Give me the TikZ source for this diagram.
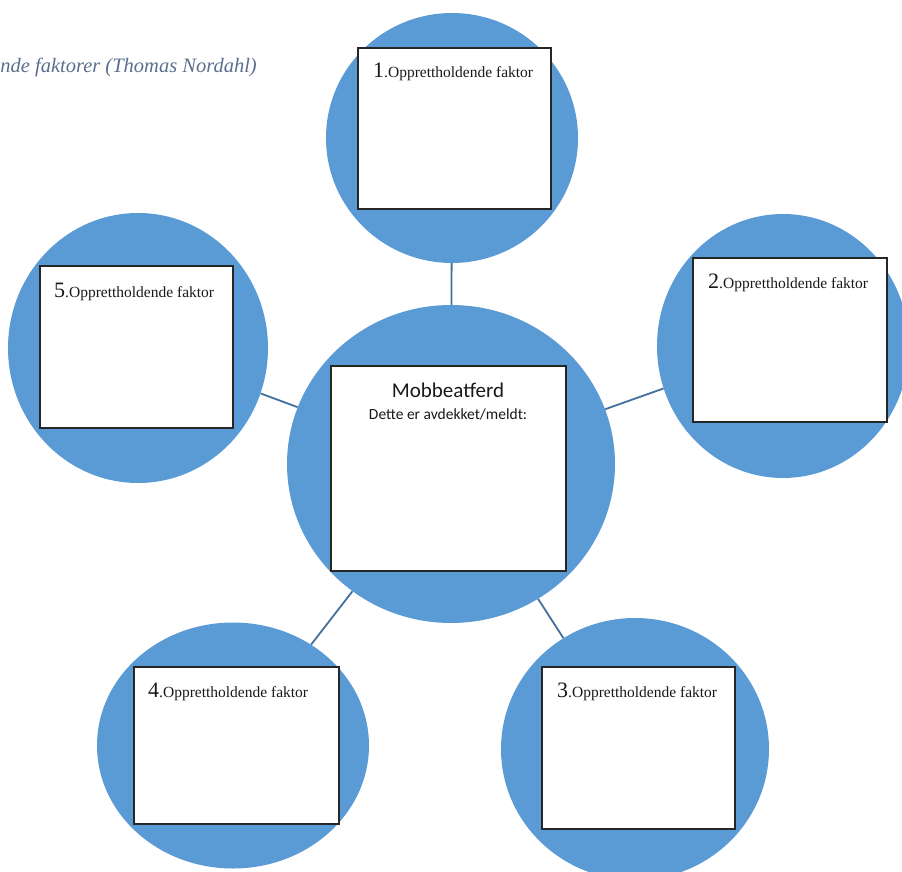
\documentclass[tikz,border=0pt]{standalone}
\usepackage{fontspec}
\setmainfont{Liberation Serif}
\newfontfamily\calib{Carlito}
\usetikzlibrary{shapes.geometric}
\definecolor{disc}{HTML}{5B9BD5}
\definecolor{link}{HTML}{41719C}
\definecolor{titlec}{HTML}{5A6F8E}
\newcommand{\factlabel}[1]{{\fontsize{22}{22}\selectfont #1}{\fontsize{15.5}{16}\selectfont .Opprettholdende faktor}}
\begin{document}
\begin{tikzpicture}[x=1pt,y=-1pt,
  disk/.style={ellipse, fill=disc, draw=none, inner sep=0pt},
  card/.style={rectangle, fill=white, draw=black!85, line width=1.6pt, inner sep=0pt},
  conn/.style={draw=link, line width=1.8pt},
  lbl/.style={anchor=base west, inner sep=0pt, text=black!90}]
\useasboundingbox (0,0) rectangle (902,872);
\begin{scope}
\clip (0,0) rectangle (902,872);
% discs
\node[disk, minimum width=328pt, minimum height=318pt] (c0) at (451,464) {};
\node[disk, minimum width=252pt, minimum height=250pt] (c1) at (452,138) {};
\node[disk, minimum width=252pt, minimum height=264pt] (c2) at (783,346) {};
\node[disk, minimum width=268pt, minimum height=262pt] (c3) at (635,749) {};
\node[disk, minimum width=272pt, minimum height=246pt] (c4) at (233,745.5) {};
\node[disk, minimum width=260pt, minimum height=270pt] (c5) at (138,348) {};
% connectors
\draw[conn] (c0) -- (c1);
\draw[conn] (c0) -- (c2);
\draw[conn] (c0) -- (c3);
\draw[conn] (c0) -- (c4);
\draw[conn] (c0) -- (c5);
% cards
\node[card, minimum width=235pt, minimum height=205pt] (r0) at (448.5,468.5) {};
\node[card, minimum width=193pt, minimum height=161pt] (r1) at (454.5,128.5) {};
\node[card, minimum width=194pt, minimum height=164pt] (r2) at (790,340) {};
\node[card, minimum width=193pt, minimum height=162pt] (r3) at (638.5,748) {};
\node[card, minimum width=205pt, minimum height=157pt] (r4) at (236.5,745.5) {};
\node[card, minimum width=193pt, minimum height=162pt] (r5) at (136.5,347) {};
% texts
\node[anchor=base, inner sep=0pt, font=\calib\fontsize{21}{21}\selectfont, text=black!90] (t0a) at (448,397) {Mobbeatferd};
\node[anchor=base, inner sep=0pt, font=\calib\fontsize{15.5}{16}\selectfont, text=black!90] (t0b) at (448,419) {Dette er avdekket/meldt:};
\node[lbl] (t1) at (373,78) {\factlabel{1}};
\node[lbl] (t2) at (708,288) {\factlabel{2}};
\node[lbl] (t3) at (557,697) {\factlabel{3}};
\node[lbl] (t4) at (148,697) {\factlabel{4}};
\node[lbl] (t5) at (54,297) {\factlabel{5}};
\node[anchor=base east, inner sep=0pt, font=\fontsize{20.5}{21}\selectfont\itshape, text=titlec] (title) at (257,73) {nde faktorer (Thomas Nordahl)};
\end{scope}
\end{tikzpicture}
\end{document}
